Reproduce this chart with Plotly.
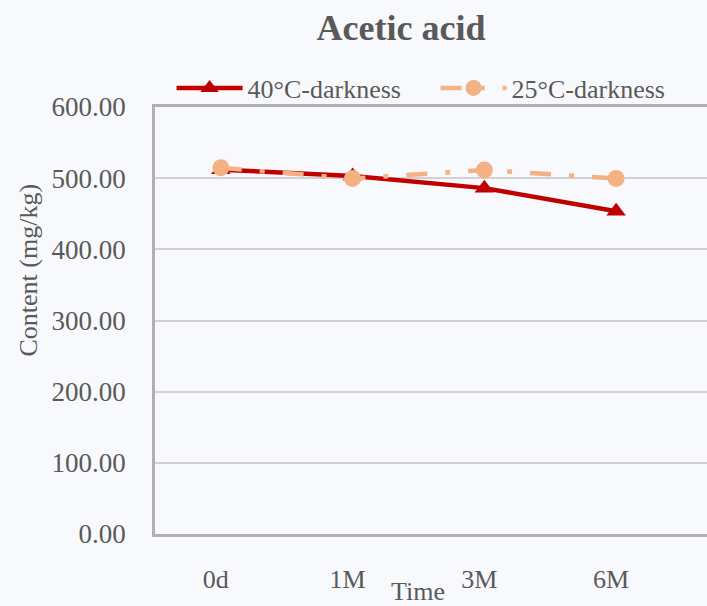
import plotly.graph_objects as go

categories = ["0d", "1M", "3M", "6M"]
series_40 = [512.0, 503.0, 486.0, 453.5]
series_25 = [514.5, 499.5, 511.5, 499.5]
y_ticks = [0, 100, 200, 300, 400, 500, 600]

FONT = "Liberation Serif, Times New Roman, serif"
TXT = "#595959"
BG = "#F8F9FC"

fig = go.Figure()
fig.add_trace(go.Scatter(
    x=categories, y=series_40, name="40°C-darkness", mode="lines+markers",
    line=dict(color="#C00000", width=4.5),
    marker=dict(symbol="triangle-up", size=17, color="#C00000"),
))
fig.add_trace(go.Scatter(
    x=categories, y=series_25, name="25°C-darkness", mode="lines+markers",
    line=dict(color="#F4B183", width=4.5, dash="21px,18px,5px,18px"),
    marker=dict(symbol="circle", size=17, color="#F4B183"),
))

fig.update_layout(
    width=707, height=606,
    margin=dict(l=155, r=0, t=107, b=72, autoexpand=False),
    paper_bgcolor=BG, plot_bgcolor=BG,
    font=dict(family=FONT, size=26, color=TXT),
    title=dict(text="<b>Acetic acid</b>", x=401/707, xanchor="center",
               y=1-27/606, yanchor="middle", xref="container", yref="container",
               font=dict(family=FONT, size=36, color=TXT)),
    showlegend=True,
    legend=dict(orientation="h", x=0.03, xanchor="left", y=1-88/606, yanchor="middle",
                yref="container", itemwidth=66, entrywidth=183,
                font=dict(family=FONT, size=26, color=TXT),
                bgcolor="rgba(0,0,0,0)", tracegroupgap=0),
    xaxis=dict(type="category", categoryorder="array", categoryarray=categories,
               range=[-0.5, 3.69], showgrid=False, showline=True, linecolor="#B0B0B0",
               linewidth=2.5, mirror=True, ticks="", ticklabelstandoff=20,
               ticklabelshift=-5, zeroline=False,
               tickfont=dict(family=FONT, size=26, color=TXT)),
    yaxis=dict(range=[0, 600], tickvals=y_ticks, tickformat=".2f",
               showgrid=True, gridcolor="#D2D2D2", gridwidth=2,
               showline=True, linecolor="#B0B0B0", linewidth=2.5,
               ticks="", ticklabelstandoff=21, zeroline=False,
               tickfont=dict(family=FONT, size=27, color=TXT)),
)

fig.add_annotation(text="Content (mg/kg)", textangle=-90,
                   x=(27.5-155)/552, y=(534-270)/427,
                   xref="paper", yref="paper", showarrow=False,
                   xanchor="center", yanchor="middle",
                   font=dict(family=FONT, size=26, color=TXT))
fig.add_annotation(text="Time", x=(417.5-155)/552, y=-(591-534)/427,
                   xref="paper", yref="paper", showarrow=False,
                   xanchor="center", yanchor="middle",
                   font=dict(family=FONT, size=26, color=TXT))

fig.write_html("out.html")
